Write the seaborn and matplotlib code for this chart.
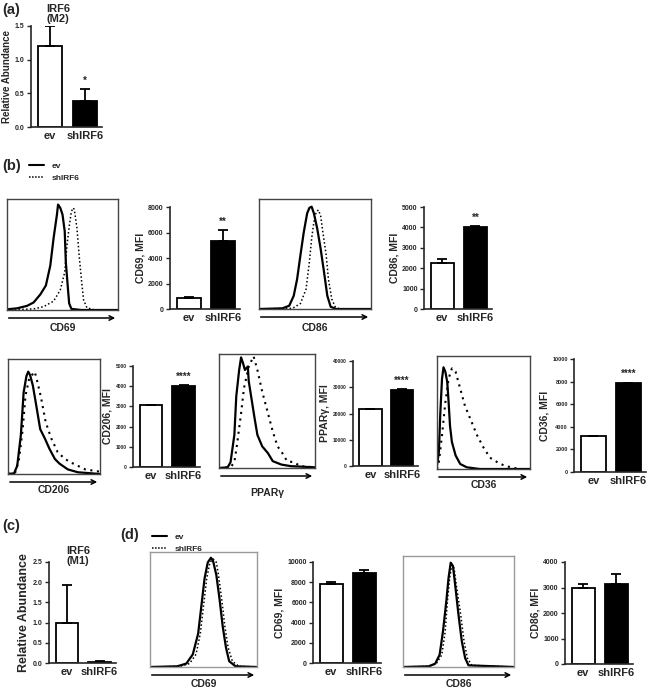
import numpy as np
import pandas as pd
import matplotlib
matplotlib.use('Agg')
import matplotlib.pyplot as plt
from matplotlib.lines import Line2D
import seaborn as sns

sns.set_style('ticks')
plt.rcParams['font.family'] = ['Liberation Sans', 'DejaVu Sans']
plt.rcParams['font.weight'] = 'bold'

# ---- bar data ----
groups = ['ev', 'shIRF6']

irf6_m2 = [1.2, 0.38]
irf6_m2_err = [0.3, 0.19]
irf6_m2_sig = ['', '*']

cd69_b = [860, 5330]
cd69_b_err = [70, 850]
cd69_b_sig = ['', '**']

cd86_b = [2260, 4030]
cd86_b_err = [200, 60]
cd86_b_sig = ['', '**']

cd206_b = [3060, 4020]
cd206_b_err = [30, 40]
cd206_b_sig = ['', '****']

ppar_b = [21600, 29000]
ppar_b_err = [100, 200]
ppar_b_sig = ['', '****']

cd36_b = [3180, 7850]
cd36_b_err = [10, 60]
cd36_b_sig = ['', '****']

irf6_m1 = [1.0, 0.03]
irf6_m1_err = [0.92, 0.01]

cd69_d = [7850, 8900]
cd69_d_err = [150, 350]

cd86_d = [2980, 3120]
cd86_d_err = [170, 400]

# ---- histogram traces (x, height in % of box) ----
cd69_ev_x = [0, 9, 18, 24, 30, 35, 39, 42, 45, 46, 48, 50, 52, 53, 55, 56, 58, 67, 100]
cd69_ev_y = [0.6, 1.5, 3.7, 6.8, 14, 22, 40, 65, 86, 95, 92, 86, 71, 43, 18, 6, 1, 0, 0]
cd69_sh_x = [0, 24, 33, 42, 48, 52, 54, 56, 58, 60, 61, 63, 65, 67, 69, 72, 79, 100]
cd69_sh_y = [0, 1, 3, 8, 18, 34, 58, 75, 89, 92, 88, 74, 49, 28, 9, 2, 0, 0]

cd86_ev_x = [0, 21, 27, 31, 34, 37, 40, 43, 45, 47, 49, 52, 55, 58, 61, 64, 69, 100]
cd86_ev_y = [0, 0.6, 3, 12, 27, 49, 70, 87, 92, 93, 87, 73, 55, 34, 12, 2, 0, 0]
cd86_sh_x = [0, 30, 37, 42, 45, 47, 49, 51, 53, 55, 57, 60, 62, 65, 68, 72, 100]
cd86_sh_y = [0, 0.6, 5, 18, 43, 64, 79, 88, 90, 85, 70, 49, 27, 9, 2, 0, 0]

cd206_ev_x = [0, 6.6, 10, 14, 17, 20, 22, 24, 27, 30, 35, 40, 45, 51, 56, 65, 76, 100]
cd206_ev_y = [0, 0.6, 7, 34, 71, 85, 89, 86, 77, 63, 39, 31, 22, 13, 9, 4, 1.5, 0]
cd206_sh_x = [0, 8, 12, 16, 19, 23, 29, 32, 36, 41, 47, 54, 62, 71, 84, 100]
cd206_sh_y = [0, 1.5, 13, 39, 68, 83, 89, 80, 66, 45, 31, 19, 13, 9, 4, 2]

ppar_ev_x = [0, 9, 12, 16, 18, 21, 23, 25, 27, 30, 31, 34, 37, 40, 45, 51, 56, 65, 75, 100]
ppar_ev_y = [0, 0.6, 5, 29, 63, 86, 97, 92, 86, 89, 76, 60, 44, 29, 19, 13, 6, 3, 1.6, 0.6]
ppar_sh_x = [0, 12, 16, 19, 23, 26, 31, 36, 40, 45, 51, 56, 61, 66, 71, 78, 85, 100]
ppar_sh_y = [0, 0.6, 5, 22, 48, 70, 89, 98, 86, 67, 48, 32, 19, 13, 6, 5, 1.6, 0.6]

cd36_ev_x = [0, 2, 3.6, 5.4, 7, 9, 11, 12.5, 14, 16, 20, 25, 32, 46, 100]
cd36_ev_y = [3, 15, 50, 80, 90, 86, 77, 59, 38, 24, 12, 4.4, 1.5, 0, 0]
cd36_sh_x = [0, 2, 5.4, 9, 12.5, 16, 20, 25, 30, 37.5, 43, 50, 57, 68, 79, 89, 100]
cd36_sh_y = [0, 6, 30, 59, 80, 89, 86, 71, 56, 41, 30, 19, 10, 4.4, 1.5, 0, 0]

cd69d_ev_x = [0, 25.5, 34, 40, 45, 48, 51, 54, 57, 59, 62, 65, 68, 71, 74, 80, 100]
cd69d_ev_y = [0, 0.6, 3, 11, 29, 53, 77, 91, 95, 92, 80, 59, 35, 17, 5, 0.6, 0]
cd69d_sh_x = [0, 28.5, 37, 43, 47, 50, 53, 56, 59, 62, 64, 67, 70, 73, 77, 83, 100]
cd69d_sh_y = [0, 0.6, 3, 11, 29, 53, 77, 91, 94, 91, 80, 59, 35, 17, 5, 0.6, 0]

cd86d_ev_x = [0, 23, 29, 33, 36, 39, 41, 43, 45, 47, 50, 53, 56, 59, 100]
cd86d_ev_y = [0, 0.6, 3, 11, 32, 59, 80, 94, 91, 74, 47, 23, 8, 1.5, 0]
cd86d_sh_x = [0, 24, 30, 35, 38, 40, 42, 44, 46, 48, 52, 55, 58, 62, 100]
cd86d_sh_y = [0, 0.6, 3, 11, 32, 59, 80, 92, 89, 74, 47, 23, 8, 1.5, 0]

W, H = 650, 690
fig = plt.figure(figsize=(W / 100, H / 100), dpi=100)


def rect(x0, y0, x1, y1):
    return [x0 / W, 1 - y1 / H, (x1 - x0) / W, (y1 - y0) / H]


def ftext(x, y, s, **kw):
    fig.text(x / W, 1 - y / H, s, fontweight='bold', **kw)


def bar_panel(box, vals, errs, top, step, ylabel, sig=None, tick_fs=5, fmt='{:.0f}', lab_fs=7.5):
    ax = fig.add_axes(rect(*box))
    df = pd.DataFrame({'group': groups, 'value': vals})
    sns.barplot(data=df, x='group', y='value', hue='group', palette=['white', 'black'],
                edgecolor='black', linewidth=1.3, width=0.7, errorbar=None,
                legend=False, ax=ax)
    pos = np.arange(len(groups))
    ax.errorbar(pos, vals, yerr=[np.zeros(len(vals)), errs], fmt='none',
                ecolor='black', elinewidth=1.3, capsize=3.5, capthick=1.3, zorder=1)
    if sig:
        for p, v, e, s in zip(pos, vals, errs, sig):
            ax.text(p, v + e + top * 0.03, s, ha='center', va='bottom',
                    fontsize=7, fontweight='bold')
    ax.set_xlim(-0.55, 1.5)
    ax.set_ylim(0, top)
    ticks = np.arange(0, top + step / 2, step)
    ax.set_yticks(ticks)
    ax.set_yticklabels([fmt.format(t) for t in ticks])
    sns.despine(ax=ax)
    for sp in ['left', 'bottom']:
        ax.spines[sp].set_linewidth(1.2)
    ax.set_xlabel('')
    ax.set_ylabel(ylabel, fontsize=lab_fs, fontweight='bold', labelpad=2)
    ax.tick_params(axis='x', length=0, labelsize=8, pad=3)
    ax.tick_params(axis='y', length=3, width=1, labelsize=tick_fs, pad=1.5)
    for lbl in ax.get_xticklabels() + ax.get_yticklabels():
        lbl.set_fontweight('bold')
    return ax


def hist_panel(box, ev, sh, xlabel, edge='#444444', dots=(1, 1.5), dot_lw=1.1, lab_off=18):
    ax = fig.add_axes(rect(*box))
    hpx = box[3] - box[1]
    sns.lineplot(x=ev[0], y=ev[1], ax=ax, color='black', lw=1.6, sort=False)
    sns.lineplot(x=sh[0], y=sh[1], ax=ax, color='black', lw=dot_lw, sort=False,
                 linestyle=(0, dots))
    ax.set_xlim(0, 100)
    ax.set_ylim(0, 100)
    ax.set_xticks([])
    ax.set_yticks([])
    ax.set_xlabel('')
    ax.set_ylabel('')
    for sp in ax.spines.values():
        sp.set_color(edge)
        sp.set_linewidth(1)
    ax.annotate('', xy=(1.0, -8 / hpx), xytext=(-0.01, -8 / hpx), xycoords='axes fraction',
                arrowprops=dict(arrowstyle='->', lw=1.1, color='black', mutation_scale=8),
                annotation_clip=False)
    ax.text(0.5, -lab_off / hpx, xlabel, transform=ax.transAxes, ha='center', va='center',
            fontsize=7.5, fontweight='bold')
    return ax


# (a)
ftext(2, 10, '(a)', fontsize=10.5, va='center')
ftext(58, 14, 'IRF6\n(M2)', fontsize=8, ha='center', va='center', linespacing=1.1)
bar_panel((31, 26, 102, 127), irf6_m2, irf6_m2_err, 1.5, 0.5, 'Relative Abundance',
          irf6_m2_sig, fmt='{:.1f}', lab_fs=7)

# (b)
ftext(2, 166, '(b)', fontsize=10.5, va='center')
leg_handles = [Line2D([], [], color='black', lw=1.5),
               Line2D([], [], color='black', lw=1.1, linestyle=(0, (1, 1)))]
fig.legend(leg_handles, groups, loc='upper left', bbox_to_anchor=(29 / W, 1 - 162 / H),
           frameon=False, handlelength=1.8, handletextpad=0.9,
           labelspacing=0.5, borderpad=0, borderaxespad=0, prop={'weight': 'bold', 'size': 6})

hist_panel((7, 199, 118, 310), (cd69_ev_x, cd69_ev_y), (cd69_sh_x, cd69_sh_y), 'CD69')
bar_panel((170, 207, 240, 309), cd69_b, cd69_b_err, 8000, 2000, 'CD69, MFI', cd69_b_sig)
hist_panel((259, 199, 371, 309), (cd86_ev_x, cd86_ev_y), (cd86_sh_x, cd86_sh_y), 'CD86',
           lab_off=19)
bar_panel((424, 207, 492, 309), cd86_b, cd86_b_err, 5000, 1000, 'CD86, MFI', cd86_b_sig)

hist_panel((8, 359, 100, 474), (cd206_ev_x, cd206_ev_y), (cd206_sh_x, cd206_sh_y), 'CD206',
           dots=(1, 2.2), dot_lw=1.5, lab_off=16)
bar_panel((133, 366, 200, 467), cd206_b, cd206_b_err, 5000, 1000, 'CD206, MFI', cd206_b_sig,
          tick_fs=3.5)
hist_panel((219, 354, 315, 468), (ppar_ev_x, ppar_ev_y), (ppar_sh_x, ppar_sh_y), 'PPAR\u03b3',
           dots=(1, 2.2), dot_lw=1.5, lab_off=25)
bar_panel((353, 361, 418, 466), ppar_b, ppar_b_err, 40000, 10000, 'PPAR\u03b3, MFI', ppar_b_sig,
          tick_fs=3.5)
hist_panel((437, 356, 530, 469), (cd36_ev_x, cd36_ev_y), (cd36_sh_x, cd36_sh_y), 'CD36',
           dots=(1, 2.2), dot_lw=1.5, lab_off=16)
bar_panel((574, 359, 646, 472), cd36_b, cd36_b_err, 10000, 2000, 'CD36, MFI', cd36_b_sig,
          tick_fs=4)

# (c)
ftext(2, 526, '(c)', fontsize=10.5, va='center')
ftext(78, 556, 'IRF6\n(M1)', fontsize=8, ha='center', va='center', linespacing=1.1)
bar_panel((49, 562, 116, 663), irf6_m1, irf6_m1_err, 2.5, 0.5, 'Relative Abundance',
          fmt='{:.1f}', lab_fs=9)

# (d)
ftext(120, 535, '(d)', fontsize=10.5, va='center')
fig.legend(leg_handles, groups, loc='upper left', bbox_to_anchor=(152 / W, 1 - 533 / H),
           frameon=False, handlelength=1.8, handletextpad=0.9,
           labelspacing=0.5, borderpad=0, borderaxespad=0, prop={'weight': 'bold', 'size': 6})
hist_panel((150, 552, 257, 667), (cd69d_ev_x, cd69d_ev_y), (cd69d_sh_x, cd69d_sh_y), 'CD69',
           edge='#999999', lab_off=17)
bar_panel((313, 562, 381, 663), cd69_d, cd69_d_err, 10000, 2000, 'CD69, MFI')
hist_panel((403, 556, 514, 667), (cd86d_ev_x, cd86d_ev_y), (cd86d_sh_x, cd86d_sh_y), 'CD86',
           edge='#999999', lab_off=17)
bar_panel((565, 562, 633, 664), cd86_d, cd86_d_err, 4000, 1000, 'CD86, MFI')

fig.savefig('out.png', dpi=100, facecolor='white')
